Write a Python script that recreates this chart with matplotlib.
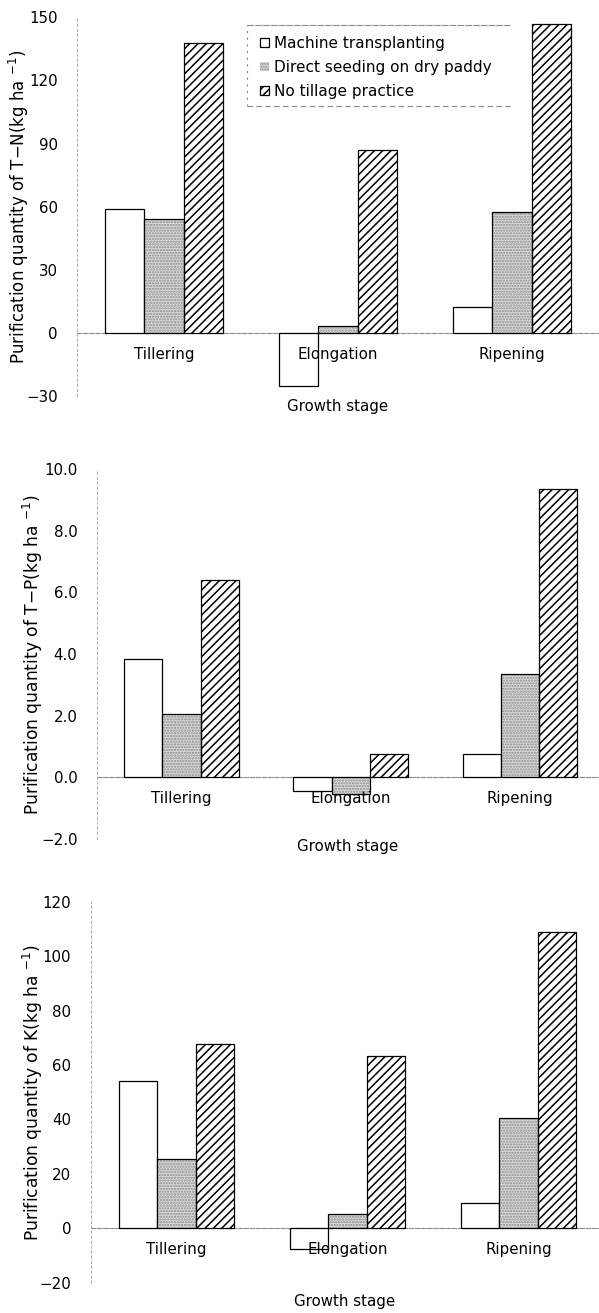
import matplotlib
matplotlib.use('Agg')
import matplotlib.pyplot as plt
import numpy as np

stages = ['Tillering', 'Elongation', 'Ripening']
practices = ['Machine transplanting', 'Direct seeding on dry paddy', 'No tillage practice']

# purification quantities (kg ha-1)
tn_mt = [58.9, -25.3, 12.3]
tn_ds = [54.1, 3.2, 57.3]
tn_nt = [137.6, 86.7, 146.9]

tp_mt = [3.83, -0.43, 0.76]
tp_ds = [2.06, -0.54, 3.35]
tp_nt = [6.41, 0.76, 9.35]

k_mt = [54.2, -7.7, 9.1]
k_ds = [25.6, 5.1, 40.6]
k_nt = [67.6, 63.4, 108.9]

tn_ticks = [-30, 0, 30, 60, 90, 120, 150]
tp_ticks = [-2.0, 0.0, 2.0, 4.0, 6.0, 8.0, 10.0]
k_ticks = [-20, 0, 20, 40, 60, 80, 100, 120]

plt.rcParams['font.family'] = ['DejaVu Sans']
plt.rcParams['hatch.linewidth'] = 1.1

W, H = 599, 1313
fig = plt.figure(figsize=(W / 100, H / 100), dpi=100)

FS = 10.8
bw = 0.225
x = np.arange(len(stages))


def panel(rect, mt, ds, nt, ticks, fmt, ylabel, ylab_x, xlim_r, xlab_y, ylab_fs=12.3):
    ax = fig.add_axes(rect)
    b1 = ax.bar(x - bw, mt, bw, facecolor='white', edgecolor='black', lw=0.9, zorder=3)
    # stippled bars: grey dots, then black outline on top
    b2 = ax.bar(x, ds, bw, facecolor='#dcdcdc', edgecolor='#8a8a8a', hatch='......', lw=0, zorder=3)
    ax.bar(x, ds, bw, facecolor='none', edgecolor='black', lw=0.9, zorder=4)
    b3 = ax.bar(x + bw, nt, bw, facecolor='white', edgecolor='black', hatch='////', lw=0.9, zorder=3)

    ax.set_xlim(-0.5, xlim_r)
    ax.set_ylim(ticks[0], ticks[-1])
    ax.set_yticks(ticks, [fmt.format(t).replace('-', '\u2212') for t in ticks])
    ax.set_xticks(x, stages)

    for s in ['top', 'right']:
        ax.spines[s].set_visible(False)
    ax.spines['bottom'].set_position(('data', 0))
    ax.spines['bottom'].set_color('#8c8c8c')
    ax.spines['bottom'].set_linestyle((0, (4, 1.5)))
    ax.spines['bottom'].set_linewidth(0.8)
    ax.spines['bottom'].set_zorder(2)
    ax.spines['left'].set_color('#a0a0a0')
    ax.spines['left'].set_linestyle((0, (3, 3)))
    ax.spines['left'].set_linewidth(0.6)
    ax.xaxis.set_zorder(6)

    ax.tick_params(axis='y', length=0, pad=14, labelsize=FS)
    ax.tick_params(axis='x', length=0, pad=10, labelsize=FS)
    ax.set_ylabel(ylabel, fontsize=ylab_fs, va='center')
    ax.yaxis.set_label_coords(ylab_x, 0.5)
    ax.text(0.5, xlab_y, 'Growth stage', transform=ax.transAxes,
            ha='center', va='center', fontsize=FS)
    return ax, (b1, b2, b3)


ax1, handles = panel([0.1285, 0.6984, 0.8715, 0.2884], tn_mt, tn_ds, tn_nt,
                     tn_ticks, '{:.0f}', 'Purification quantity of T\u2212N(kg ha $^{-1}$)',
                     -0.112, 2.5, -0.029, ylab_fs=12.0)
ax2, _ = panel([0.1619, 0.3610, 0.8381, 0.2818], tp_mt, tp_ds, tp_nt,
               tp_ticks, '{:.1f}', 'Purification quantity of T\u2212P(kg ha $^{-1}$)',
               -0.1275, 2.47, -0.0216)
ax3, _ = panel([0.1514, 0.0231, 0.8486, 0.2902], k_mt, k_ds, k_nt,
               k_ticks, '{:.0f}', 'Purification quantity of K(kg ha $^{-1}$)',
               -0.1135, 2.47, -0.05)

leg = ax1.legend(handles, practices, loc='upper left', bbox_to_anchor=(0.338, 0.969),
                 borderaxespad=0, frameon=False, fontsize=11,
                 handlelength=0.55, handleheight=0.55, handletextpad=0.35,
                 labelspacing=0.6, borderpad=0.45)
leg.set_zorder(5)

# broken legend box: top, bottom and left lines only
box = dict(transform=ax1.transAxes, clip_on=False, color='#8a8a8a', lw=0.8, zorder=5)
ax1.plot([0.325, 0.8295], [0.980, 0.980], ls=(0, (6, 1)), **box)
ax1.plot([0.325, 0.8295], [0.766, 0.766], ls=(0, (5, 3)), **box)
ax1.plot([0.325, 0.325], [0.766, 0.980], ls=(0, (2, 4)), **box)

fig.savefig('out.png', dpi=100)
